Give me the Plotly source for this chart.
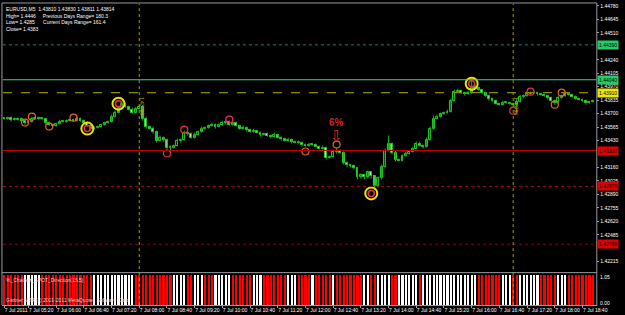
import plotly.graph_objects as go

# ---------------- data ----------------
first_open = 1.4365
closes = [
    1.4365, 1.4366, 1.4364, 1.4364, 1.4365, 1.4363, 1.4361, 1.4362, 1.4365, 1.4366,
    1.4365, 1.4365, 1.4361, 1.4359, 1.4358, 1.4360, 1.4362, 1.4362, 1.4363, 1.4364,
    1.4363, 1.4365, 1.4363, 1.4361, 1.4358, 1.4355, 1.4356, 1.4357, 1.4359, 1.4361,
    1.4362, 1.4367, 1.4371, 1.4376, 1.4380, 1.4377, 1.4374, 1.4371, 1.4375, 1.4377,
    1.4365, 1.4357, 1.4355, 1.4352, 1.4343, 1.4346, 1.4344, 1.4336, 1.4336, 1.4338,
    1.4343, 1.4344, 1.4351, 1.4350, 1.4346, 1.4349, 1.4352, 1.4355, 1.4356, 1.4358,
    1.4359, 1.4357, 1.4359, 1.4361, 1.4362, 1.4359, 1.4361, 1.4358, 1.4355, 1.4356,
    1.4354, 1.4352, 1.4353, 1.4351, 1.4349, 1.4350, 1.4348, 1.4347, 1.4349, 1.4346,
    1.4345, 1.4343, 1.4344, 1.4342, 1.4341, 1.4341, 1.4339, 1.4338, 1.4339, 1.4339,
    1.4337, 1.4335, 1.4336, 1.4326, 1.4327, 1.4332, 1.4333, 1.4331, 1.4321, 1.4318,
    1.4317, 1.4315, 1.4306, 1.4308, 1.4306, 1.4311, 1.4307, 1.4297, 1.4305, 1.4316,
    1.4333, 1.4340, 1.4331, 1.4324, 1.4323, 1.4328, 1.4330, 1.4332, 1.4335, 1.4340,
    1.4338, 1.4337, 1.4344, 1.4355, 1.4365, 1.4367, 1.4370, 1.4371, 1.4372, 1.4383,
    1.4392, 1.4393, 1.4391, 1.4390, 1.4391, 1.4397, 1.4396, 1.4394, 1.4391, 1.4388,
    1.4385, 1.4383, 1.4380, 1.4379, 1.4381, 1.4381, 1.4380, 1.4379, 1.4382, 1.4387,
    1.4388, 1.4390, 1.4391, 1.4391, 1.4390, 1.4389, 1.4388, 1.4386, 1.4383, 1.4381,
    1.4386, 1.4388, 1.4390, 1.4389, 1.4387, 1.4385, 1.4384, 1.4383, 1.4381, 1.4382,
    1.4383,
]
upper_wick_pips = [
    1, 1, 1, 2, 1, 1, 1, 1, 2, 1,
    1, 1, 1, 1, 1, 1, 2, 1, 1, 1,
    1, 2, 1, 1, 1, 1, 1, 1, 1, 1,
    1, 2, 2, 2, 3, 1, 1, 2, 2, 2,
    1, 2, 1, 2, 1, 2, 1, 1, 2, 1,
    2, 1, 2, 1, 1, 2, 1, 2, 1, 1,
    2, 1, 1, 2, 1, 1, 1, 1, 1, 2,
    1, 1, 2, 1, 1, 1, 1, 1, 2, 1,
    1, 1, 2, 1, 1, 2, 1, 1, 2, 1,
    1, 1, 2, 1, 1, 2, 2, 1, 1, 1,
    1, 2, 1, 2, 1, 2, 1, 1, 2, 3,
    2, 8, 1, 2, 1, 1, 2, 1, 2, 2,
    2, 1, 2, 2, 3, 2, 1, 1, 2, 2,
    2, 2, 1, 1, 2, 6, 2, 1, 1, 1,
    1, 1, 1, 1, 2, 1, 1, 1, 3, 2,
    1, 2, 1, 1, 1, 1, 1, 1, 1, 1,
    2, 1, 1, 1, 1, 1, 1, 1, 1, 1,
    1,
]
lower_wick_pips = [
    1, 1, 2, 1, 1, 1, 2, 1, 1, 1,
    1, 1, 2, 1, 2, 1, 1, 1, 1, 1,
    1, 1, 1, 1, 1, 2, 1, 1, 1, 1,
    1, 1, 1, 1, 1, 1, 1, 1, 1, 1,
    2, 2, 1, 2, 2, 1, 2, 2, 6, 1,
    1, 2, 1, 2, 1, 1, 1, 1, 1, 1,
    1, 2, 1, 1, 2, 1, 1, 1, 1, 1,
    2, 1, 1, 1, 2, 1, 1, 2, 1, 1,
    2, 1, 1, 2, 1, 1, 2, 1, 1, 1,
    1, 1, 1, 2, 1, 1, 2, 1, 2, 2,
    1, 1, 2, 1, 2, 1, 2, 4, 1, 1,
    1, 1, 2, 2, 1, 1, 1, 1, 1, 1,
    1, 2, 1, 1, 1, 1, 1, 1, 1, 1,
    1, 1, 1, 2, 1, 1, 1, 1, 1, 1,
    2, 1, 1, 1, 1, 1, 1, 1, 6, 1,
    1, 1, 1, 1, 2, 1, 1, 2, 1, 2,
    1, 1, 1, 1, 1, 1, 1, 1, 2, 1,
    1,
]
# indicator state per bar: R = red, W = white
indicator_state = (
    "RRRRRR" "WWWWW" "RRRRRRRRRRRRRRR" "WWWWWWWWWWWW" "RRRRRRRRRRR" "WWWW" "RR" "WWW"
    "RRR" "WWWWW" "RRRRRR" "WWW" "RRRRRRR" "WWW" "RRRR" "W" "RRRRR" "W" "RRRRRRRR"
    "WW" "RR" "WWWW" "RR" "WWWWWW" "R" "WWWWWWWWWWWWWWWW" "RRRRRRR" "WWW" "RR"
    "WWWWWW" "RRRRR" "WWW" "RRRRRRRR"
)
tick_bars = [0] + [7 + 8 * k for k in range(21)]
tick_times = ["7 Jul 2011", "7 Jul 05:20", "7 Jul 06:00", "7 Jul 06:40", "7 Jul 07:20",
              "7 Jul 08:00", "7 Jul 08:40", "7 Jul 09:20", "7 Jul 10:00", "7 Jul 10:40",
              "7 Jul 11:20", "7 Jul 12:00", "7 Jul 12:40", "7 Jul 13:20", "7 Jul 14:00",
              "7 Jul 14:40", "7 Jul 15:20", "7 Jul 16:00", "7 Jul 16:40", "7 Jul 17:20",
              "7 Jul 18:00", "7 Jul 18:40"]
price_ticks = [1.44780, 1.44645, 1.44510, 1.44240, 1.44105, 1.43970, 1.43835,
               1.43700, 1.43565, 1.43430, 1.43160, 1.43025, 1.42890, 1.42755,
               1.42620, 1.42485, 1.42215]
# horizontal levels: price, colour, dash, width, label colour
levels = [
    (1.4439, "#1f7f6a", "dot", 1, "#22cc66"),
    (1.4404, "#3fd28a", "solid", 1, "#22cc66"),
    (1.4391, "#8c8a00", "dash", 1.3, "#e8e800"),
    (1.4333, "#c00000", "solid", 1.2, "#e00000"),
    (1.4297, "#a00010", "dot", 1.2, "#e00000"),
    (1.4239, "#900010", "dot", 1, "#e00000"),
]
session_bars = [39, 147]
# pivot circles: bar, price, kind
circle_bars = [6, 8, 13, 20, 24, 33, 47, 52, 65, 87, 96, 106, 135, 147, 152, 159, 161]
circle_prices = [1.4361, 1.4367, 1.4357, 1.4366, 1.4355, 1.4380, 1.4330, 1.4354, 1.4364,
                 1.4332, 1.4339, 1.4290, 1.4400, 1.4373, 1.4392, 1.4379, 1.4391]
circle_kinds = ["o", "o", "o", "o", "y", "y", "r", "r", "r", "o", "o", "y", "y", "r", "r", "o", "o"]
signal_bar = 96
signal_text_price = 1.4361
signal_arrow_price = 1.4348
header_lines = ["EURUSD,M5  1.43810 1.43830 1.43811 1.43814",
                "High= 1.4446     Previous Days Range= 180.3",
                "Low= 1.4285      Current Days Range= 161.4",
                "Close= 1.4383"]

# ---------------- build ----------------
W, H = 625, 315
pip = 0.0001
n = len(closes)
opens = [first_open] + closes[:-1]
highs = [max(o, c) + u * pip for o, c, u in zip(opens, closes, upper_wick_pips)]
lows = [min(o, c) - d * pip for o, c, d in zip(opens, closes, lower_wick_pips)]
xs = list(range(n))

def px(x):
    return x / W

def py(y):
    return 1 - y / H

fig = go.Figure()

# wicks
wx, wy = [], []
for i in xs:
    wx += [i, i, None]
    wy += [lows[i], highs[i], None]
fig.add_trace(go.Scatter(x=wx, y=wy, mode="lines", line=dict(color="#19b319", width=1),
                         hoverinfo="skip", yaxis="y"))

min_body = 0.4 * pip
for bull in (True, False):
    bx, bbase, bh = [], [], []
    for i in xs:
        up = closes[i] >= opens[i]
        if up == bull:
            bx.append(i)
            lo = min(opens[i], closes[i])
            h = abs(closes[i] - opens[i])
            if h < min_body:
                lo -= (min_body - h) / 2
                h = min_body
            bbase.append(lo)
            bh.append(h)
    fig.add_trace(go.Bar(x=bx, y=bh, base=bbase, width=0.55, yaxis="y",
                         marker=dict(color="#000000" if bull else "#ffffff",
                                     line=dict(color="#22d022", width=1)),
                         hoverinfo="skip"))

# indicator histogram
ind_colors = ["#ff0000" if s == "R" else "#ffffff" for s in indicator_state[:n]]
fig.add_trace(go.Bar(x=xs, y=[1] * n, width=0.62, yaxis="y2",
                     marker=dict(color=ind_colors, line=dict(width=0)), hoverinfo="skip"))

# circles
kind_style = {
    "o": dict(size=7, color="#e2622c"),
    "r": dict(size=7, color="#e8304c"),
}
for kind in ("o", "r"):
    cx = [b for b, k in zip(circle_bars, circle_kinds) if k == kind]
    cy = [p for p, k in zip(circle_prices, circle_kinds) if k == kind]
    st = kind_style[kind]
    fig.add_trace(go.Scatter(x=cx, y=cy, mode="markers", yaxis="y",
                             marker=dict(symbol="circle-open", size=st["size"],
                                         color=st["color"], line=dict(width=1.2)),
                             hoverinfo="skip"))
yx = [b for b, k in zip(circle_bars, circle_kinds) if k == "y"]
yy = [p for p, k in zip(circle_prices, circle_kinds) if k == "y"]
fig.add_trace(go.Scatter(x=yx, y=yy, mode="markers", yaxis="y",
                         marker=dict(symbol="circle-open", size=12, color="#e6e600",
                                     line=dict(width=2)), hoverinfo="skip"))
fig.add_trace(go.Scatter(x=yx, y=yy, mode="markers", yaxis="y",
                         marker=dict(symbol="circle-open", size=6, color="#e8304c",
                                     line=dict(width=1.5)), hoverinfo="skip"))

shapes = []
for price, col, dash, wdt, _ in levels:
    shapes.append(dict(type="line", xref="paper", yref="y", x0=px(3), x1=px(607),
                       y0=price, y1=price, line=dict(color=col, width=wdt, dash=dash)))
for b in session_bars:
    shapes.append(dict(type="line", xref="x", yref="paper", x0=b, x1=b,
                       y0=py(305), y1=py(3), line=dict(color="#a09a00", width=1, dash="dot")))
grey = "#9a9a9a"
shapes += [
    dict(type="line", xref="paper", yref="paper", x0=px(2), x1=px(2), y0=py(305), y1=py(2),
         line=dict(color=grey, width=1)),
    dict(type="line", xref="paper", yref="paper", x0=px(607.5), x1=px(607.5), y0=py(306), y1=py(2),
         line=dict(color=grey, width=1)),
    dict(type="line", xref="paper", yref="paper", x0=px(2), x1=px(607.5), y0=py(2), y1=py(2),
         line=dict(color=grey, width=1)),
    dict(type="line", xref="paper", yref="paper", x0=px(2), x1=px(607.5), y0=py(272.5), y1=py(272.5),
         line=dict(color=grey, width=1)),
    dict(type="line", xref="paper", yref="paper", x0=px(2), x1=px(607.5), y0=py(305.5), y1=py(305.5),
         line=dict(color=grey, width=1)),
]

annotations = []
fnt = "Liberation Sans"
annotations.append(dict(xref="paper", yref="paper", x=px(4), y=py(3), xanchor="left", yanchor="top",
                        text="<br>".join(header_lines), showarrow=False, align="left",
                        font=dict(family=fnt, size=5, color="#ffffff")))
for price, _, _, _, lab in levels:
    annotations.append(dict(xref="paper", yref="y", x=px(608), y=price, xanchor="left",
                            yanchor="middle", text=f"{price:.5f}", showarrow=False,
                            bgcolor=lab, borderpad=1, font=dict(family=fnt, size=5, color="#000000")))
annotations.append(dict(xref="x", yref="y", x=signal_bar, y=signal_text_price, text="<b>6%</b>",
                        showarrow=False, font=dict(family=fnt, size=10, color="#d42020")))
annotations.append(dict(xref="x", yref="y", x=signal_bar, y=signal_arrow_price, text="⇩",
                        showarrow=False, font=dict(family="DejaVu Sans", size=15, color="#e02020")))
for b in session_bars:
    annotations.append(dict(xref="x", yref="y", x=b + 1, y=1.4378, text="1.43785", textangle=90,
                            showarrow=False, font=dict(family=fnt, size=5, color="#b8b000")))
annotations.append(dict(xref="paper", yref="paper", x=px(4), y=py(274.5), xanchor="left",
                        yanchor="top", text="%_Chainez_SPOT_Direction(15,5)", showarrow=False,
                        font=dict(family=fnt, size=5, color="#ffd0d0")))
annotations.append(dict(xref="paper", yref="paper", x=px(4), y=py(305), xanchor="left",
                        yanchor="bottom", text="Gartner MT4 (c) 2001-2011 MetaQuotes Software Corp.",
                        showarrow=False, font=dict(family=fnt, size=5, color="#ffd0d0")))
annotations.append(dict(xref="paper", yref="paper", x=px(609), y=py(277), xanchor="left",
                        yanchor="middle", text="1.05", showarrow=False,
                        font=dict(family=fnt, size=5, color="#ffffff")))
annotations.append(dict(xref="paper", yref="paper", x=px(609), y=py(303), xanchor="left",
                        yanchor="middle", text="0.00", showarrow=False,
                        font=dict(family=fnt, size=5, color="#ffffff")))

fig.update_layout(
    width=W, height=H, margin=dict(l=0, r=0, t=0, b=0),
    paper_bgcolor="#000000", plot_bgcolor="#000000",
    showlegend=False, barmode="overlay", bargap=0,
    shapes=shapes, annotations=annotations,
    xaxis=dict(domain=[px(3), px(607)], range=[-0.37, 171.0], anchor="y2",
               tickvals=tick_bars, ticktext=tick_times, ticks="outside", ticklen=2,
               tickcolor=grey, ticklabelposition="outside right", tickangle=0,
               tickfont=dict(family=fnt, size=5, color="#ffffff"),
               showgrid=False, zeroline=False, showline=False),
    yaxis=dict(domain=[py(271), py(3)], range=[1.4212, 1.4480], side="right", anchor="x",
               tickvals=price_ticks, ticktext=[f"{v:.5f}" for v in price_ticks],
               ticks="outside", ticklen=2, tickcolor=grey,
               tickfont=dict(family=fnt, size=5, color="#ffffff"),
               showgrid=False, zeroline=False, showline=False),
    yaxis2=dict(domain=[py(305), py(273)], range=[0, 1.05], side="right", anchor="x",
                showticklabels=False, showgrid=False, zeroline=False, showline=False),
)

fig.write_html("out.html")
